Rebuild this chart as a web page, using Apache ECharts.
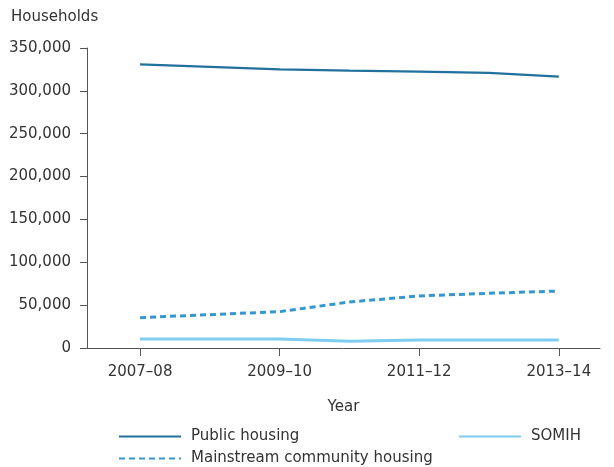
<!DOCTYPE html>
<html>
<head>
<meta charset="utf-8">
<script src="https://cdn.jsdelivr.net/npm/echarts@6/dist/echarts.min.js"></script>
<style>
  html, body { margin: 0; padding: 0; background: #fff; }
  #chart { width: 614px; height: 467px; }
</style>
</head>
<body>
<div id="chart"></div>
<script>
// Financial years on the horizontal axis
var years = ['2007–08', '2008–09', '2009–10', '2010–11', '2011–12', '2012–13', '2013–14'];
// Households by housing program
var publicHousing = [331000, 328000, 325000, 323700, 322500, 321000, 316500];
var mainstreamCommunity = [35400, 38900, 42400, 53700, 60700, 63800, 66500];
var somih = [10500, 10500, 10500, 7800, 9300, 9300, 9300];
// Years that carry a tick label
var labelledYears = [0, 2, 4, 6];

function pairs(values) {
  return values.map(function (v, i) { return [i, v]; });
}

var font = 'DejaVu Sans, sans-serif';
var textColor = '#333';
var axisColor = '#555';

// One legend entry per component so each can be placed on its own row/column
function legendAt(name, left, top) {
  return {
    left: left, top: top, itemWidth: 62, itemHeight: 12, padding: 0,
    itemStyle: { opacity: 0 },
    textStyle: { fontFamily: font, fontSize: 15, color: textColor, padding: [0, 0, 0, 5] },
    data: [name]
  };
}

var chart = echarts.init(document.getElementById('chart'));
chart.setOption({
  animation: false,
  textStyle: { fontFamily: font },
  grid: { left: 87, right: 14, top: 48, bottom: 119 },
  title: {
    text: 'Households', left: 11, top: 10, padding: 0,
    textStyle: { fontFamily: font, fontSize: 15, fontWeight: 'normal', color: textColor }
  },
  xAxis: {
    type: 'value', min: -0.76, max: 6.59,
    name: 'Year', nameLocation: 'middle', nameGap: 52,
    nameTextStyle: { fontFamily: font, fontSize: 15, color: textColor },
    axisLine: { show: true, onZero: false, lineStyle: { color: axisColor, width: 1 } },
    axisTick: { show: true, length: 8, lineStyle: { color: axisColor }, customValues: labelledYears },
    axisLabel: {
      customValues: labelledYears, fontSize: 15, fontFamily: font, color: textColor, margin: 17,
      formatter: function (v) { return years[Math.round(v)]; }
    },
    splitLine: { show: false }
  },
  yAxis: {
    type: 'value', min: 0, max: 350000, interval: 50000,
    axisLine: { show: true, onZero: false, lineStyle: { color: axisColor, width: 1 } },
    axisTick: { show: true, length: 7, lineStyle: { color: axisColor } },
    axisLabel: {
      fontSize: 15, fontFamily: font, color: textColor, margin: 16,
      formatter: function (v) { return v.toLocaleString('en-US'); }
    },
    splitLine: { show: false }
  },
  legend: [
    legendAt('Public housing', 118, 429),
    legendAt('Mainstream community housing', 118, 451),
    legendAt('SOMIH', 458, 429)
  ],
  series: [
    {
      name: 'Public housing', type: 'line', data: pairs(publicHousing),
      showSymbol: false, symbol: 'none',
      lineStyle: { color: '#22719c', width: 2.2 }, itemStyle: { color: '#22719c' }
    },
    {
      name: 'Mainstream community housing', type: 'line', data: pairs(mainstreamCommunity),
      showSymbol: false, symbol: 'none',
      lineStyle: { color: '#3497d0', width: 3, type: [6, 4] }, itemStyle: { color: '#3497d0' }
    },
    {
      name: 'SOMIH', type: 'line', data: pairs(somih),
      showSymbol: false, symbol: 'none',
      lineStyle: { color: '#7fcdef', width: 3 }, itemStyle: { color: '#7fcdef' }
    }
  ]
});
</script>
</body>
</html>
